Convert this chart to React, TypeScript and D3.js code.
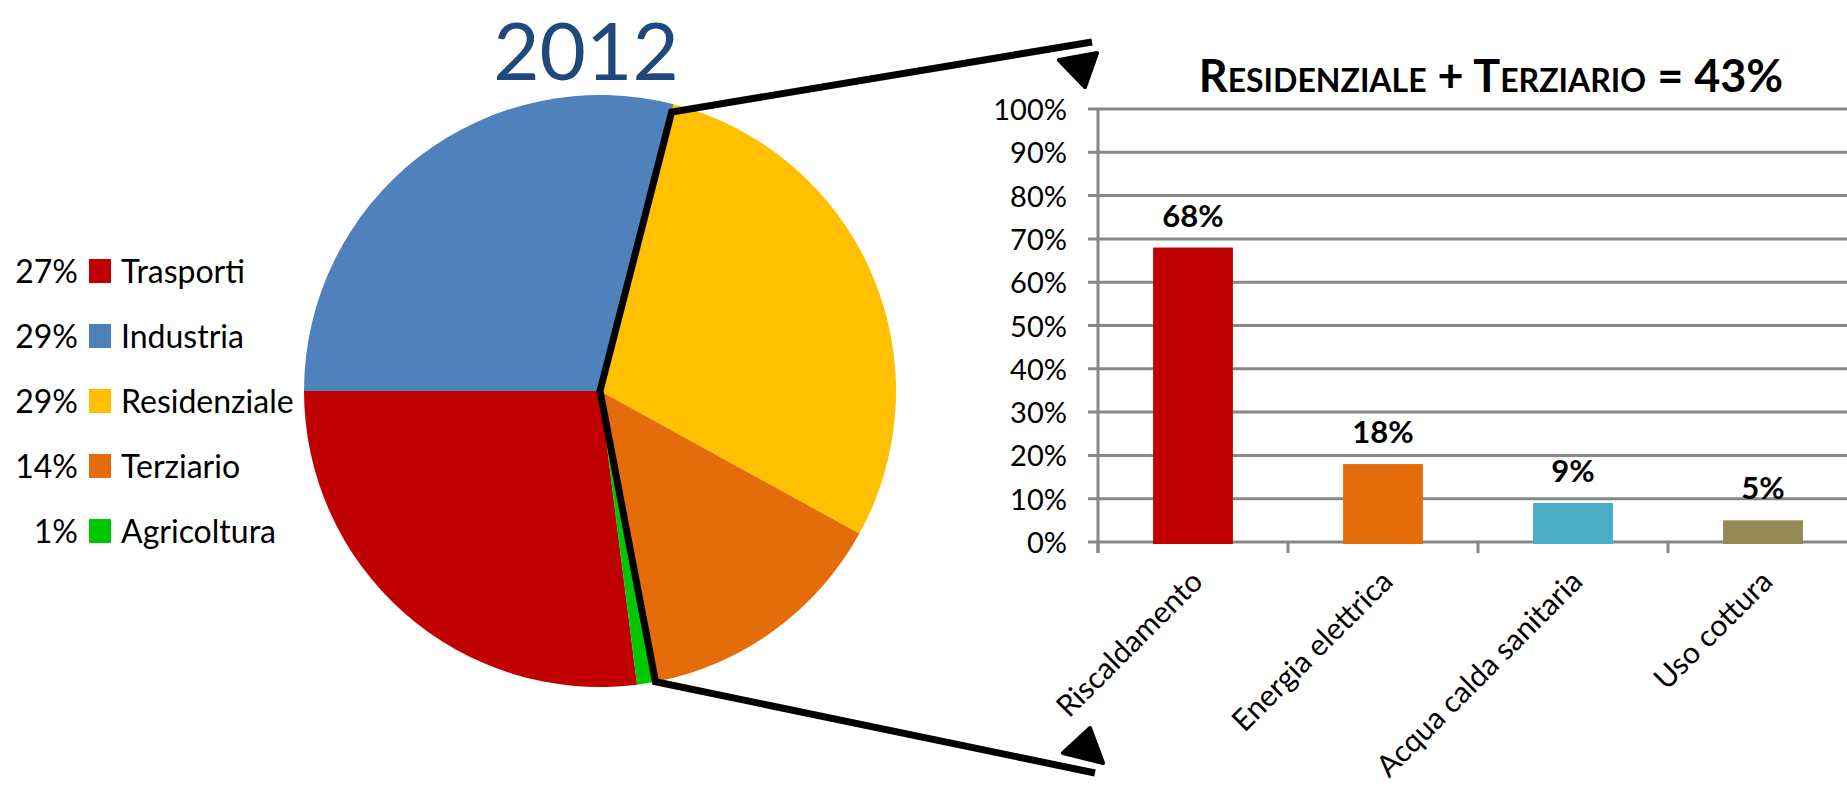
import React, { useEffect, useState } from 'react';
import * as d3 from 'd3';

// Pie: consumi finali per settore, 2012
const sectors = ['Trasporti', 'Industria', 'Residenziale', 'Terziario', 'Agricoltura'];
const sectorShares = [27, 29, 29, 14, 1];
const sectorColors = ['#C00000', '#4F81BD', '#FFC000', '#E46C0A', '#00C800'];

// Bars: ripartizione residenziale + terziario
const uses = ['Riscaldamento', 'Energia elettrica', 'Acqua calda sanitaria', 'Uso cottura'];
const useShares = [0.68, 0.18, 0.09, 0.05];
const useColors = ['#C00000', '#E46C0A', '#4BACC6', '#948A54'];
const yTicks = [0, 0.1, 0.2, 0.3, 0.4, 0.5, 0.6, 0.7, 0.8, 0.9, 1];

const FONT = 'Lato, "Open Sans", sans-serif';

const App: React.FC = () => {
  const [svgRef, setSvgRef] = useState<SVGSVGElement | null>(null);
  const width = 1847;
  const height = 794;

  useEffect(() => {
    if (!svgRef) return;
    const svg = d3.select(svgRef);
    svg.selectAll('*').remove();

    // ---- pie ----
    const cx = 600, cy = 391, r = 296;
    const startDeg = 172.8; // Trasporti starts just past 6 o'clock
    const pie = d3.pie<number>()
      .sort(null)
      .startAngle((startDeg * Math.PI) / 180)
      .endAngle((startDeg * Math.PI) / 180 + 2 * Math.PI);
    const arcs = pie(sectorShares);
    const arc = d3.arc<d3.PieArcDatum<number>>().innerRadius(0).outerRadius(r);

    const pg = svg.append('g').attr('transform', `translate(${cx},${cy})`);
    pg.selectAll('path')
      .data(arcs)
      .enter()
      .append('path')
      .attr('d', arc)
      .attr('fill', (_, i) => sectorColors[i]);

    svg.append('text')
      .attr('x', 586)
      .attr('y', 80)
      .attr('text-anchor', 'middle')
      .attr('font-family', FONT)
      .attr('font-size', 80)
      .attr('fill', '#1F497D')
      .text('2012');

    // legend
    const lg = svg.append('g').attr('font-family', FONT).attr('font-size', 32).attr('fill', '#000');
    sectors.forEach((s, i) => {
      const y = 283 + i * 65;
      lg.append('text').attr('x', 78).attr('y', y).attr('text-anchor', 'end').text(`${sectorShares[i]}%`);
      lg.append('rect').attr('x', 89).attr('y', y - 24).attr('width', 22).attr('height', 24).attr('fill', sectorColors[i]);
      lg.append('text').attr('x', 121).attr('y', y).text(s);
    });

    // ---- bar chart ----
    const x0 = 1098;
    const step = 190;
    const xScale = d3.scaleBand<string>()
      .domain(uses)
      .range([x0, x0 + step * uses.length])
      .paddingInner(0.58)
      .paddingOuter(0.29);
    const yScale = d3.scaleLinear().domain([0, 1]).range([542, 109]);

    const grid = svg.append('g').attr('stroke', '#878787').attr('stroke-width', 3);
    grid.selectAll('line.grid')
      .data(yTicks)
      .enter()
      .append('line')
      .attr('x1', x0 - 10)
      .attr('x2', width)
      .attr('y1', d => yScale(d))
      .attr('y2', d => yScale(d));
    grid.append('line')
      .attr('x1', x0).attr('x2', x0)
      .attr('y1', yScale(1)).attr('y2', yScale(0) + 11);
    grid.selectAll('line.xt')
      .data(uses)
      .enter()
      .append('line')
      .attr('x1', d => (xScale(d) || 0) - xScale.step() * 0.29)
      .attr('x2', d => (xScale(d) || 0) - xScale.step() * 0.29)
      .attr('y1', yScale(0))
      .attr('y2', yScale(0) + 11);

    svg.append('g')
      .attr('font-family', FONT)
      .attr('font-size', 29)
      .selectAll('text')
      .data(yTicks)
      .enter()
      .append('text')
      .attr('x', x0 - 31)
      .attr('y', d => yScale(d) + 11)
      .attr('text-anchor', 'end')
      .text(d => d3.format('.0%')(d));

    svg.selectAll('rect.bar')
      .data(useShares)
      .enter()
      .append('rect')
      .attr('x', (_, i) => xScale(uses[i]) || 0)
      .attr('y', d => yScale(d))
      .attr('width', xScale.bandwidth())
      .attr('height', d => yScale(0) - yScale(d) + 2)
      .attr('fill', (_, i) => useColors[i]);

    svg.append('g')
      .attr('font-family', FONT)
      .attr('font-size', 31)
      .attr('font-weight', 'bold')
      .attr('text-anchor', 'middle')
      .selectAll('text')
      .data(useShares)
      .enter()
      .append('text')
      .attr('x', (_, i) => (xScale(uses[i]) || 0) + xScale.bandwidth() / 2)
      .attr('y', d => yScale(d) - 21)
      .text(d => d3.format('.0%')(d));

    svg.append('g')
      .attr('font-family', FONT)
      .attr('font-size', 30)
      .selectAll('text')
      .data(uses)
      .enter()
      .append('text')
      .attr('transform', d => `translate(${(xScale(d) || 0) + xScale.bandwidth() / 2 + 4},${yScale(0) + 34}) rotate(-45)`)
      .attr('text-anchor', 'end')
      .attr('dy', '0.35em')
      .text(d => d);

    svg.append('text')
      .attr('x', 1491)
      .attr('y', 92)
      .attr('text-anchor', 'middle')
      .attr('font-family', FONT)
      .attr('font-size', 45)
      .attr('font-weight', 'bold')
      .style('font-variant', 'small-caps')
      .text('Residenziale + Terziario = 43%');

    // ---- callout lines (edges of Residenziale + Terziario) ----
    const resArc = arcs[sectors.indexOf('Residenziale')];
    const terArc = arcs[sectors.indexOf('Terziario')];
    const edge = (a: number, rr: number): [number, number] => [cx + rr * Math.sin(a), cy - rr * Math.cos(a)];
    const pTop = edge(resArc.startAngle, r - 8);
    const pBot = edge(terArc.endAngle, r);
    const topEnd: [number, number] = [x0 - 6, yScale(1) - 67];
    const botEnd: [number, number] = [x0 - 3, yScale(0) + 231];

    const callout = svg.append('g')
      .attr('fill', 'none')
      .attr('stroke', '#000')
      .attr('stroke-width', 7)
      .attr('stroke-linejoin', 'miter');
    callout.append('path').attr('d', d3.line()([topEnd, pTop, [cx, cy], pBot, botEnd]));

    const heads = svg.append('g')
      .attr('fill', '#000')
      .attr('stroke', '#000')
      .attr('stroke-width', 4)
      .attr('stroke-linejoin', 'round');
    heads.append('path').attr('d', d3.line()([
      [topEnd[0] - 33, topEnd[1] + 18],
      [topEnd[0] + 5, topEnd[1] + 11],
      [topEnd[0] - 7, topEnd[1] + 45],
    ]) + 'Z');
    heads.append('path').attr('d', d3.line()([
      [botEnd[0] - 5, botEnd[1] - 45],
      [botEnd[0] - 32, botEnd[1] - 20],
      [botEnd[0] + 8, botEnd[1] - 10],
    ]) + 'Z');
  }, [svgRef]);

  return (
    <svg
      ref={setSvgRef}
      width={width}
      height={height}
      style={{ position: 'absolute', left: 0, top: 0, background: '#fff' }}
    />
  );
};

export default App;
